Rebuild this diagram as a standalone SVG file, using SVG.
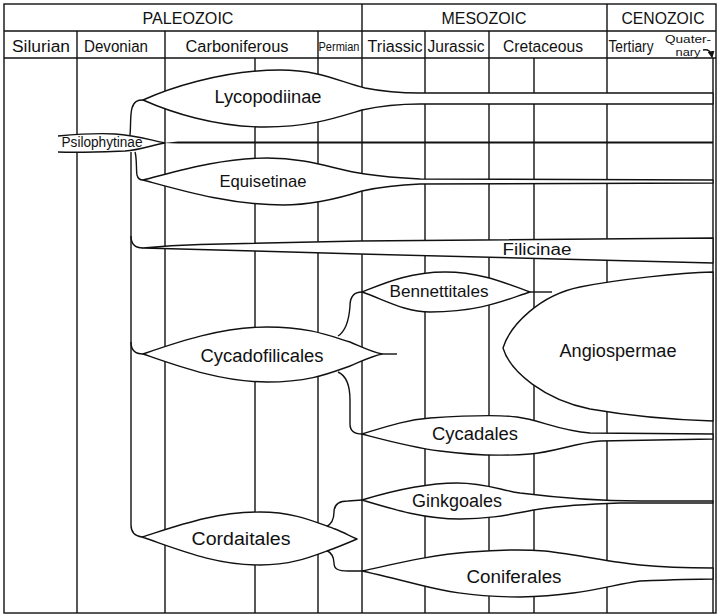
<svg xmlns="http://www.w3.org/2000/svg" width="720" height="616" viewBox="0 0 720 616">
<defs>
<style>
.g{stroke:#111;stroke-width:1.4;fill:none}
.s{fill:#fff;stroke:#111;stroke-width:1.4;stroke-linejoin:round}
.c{fill:none;stroke:#111;stroke-width:1.4}
text{font-family:"Liberation Sans","DejaVu Sans",sans-serif;fill:#111;text-anchor:middle}
.h{font-size:17px}
.p{font-size:16px}
.l{font-size:18px}
</style>
<marker id="ah" viewBox="0 0 6 6" refX="5" refY="3" markerWidth="5" markerHeight="5" orient="auto">
<path d="M0,0 L6,3 L0,6 Z" fill="#111"/>
</marker>
</defs>
<rect width="720" height="616" fill="#fff"/>
<g id="grid" class="g">
<rect x="4" y="4" width="712" height="609"/>
<line x1="4" y1="31" x2="716" y2="31"/>
<line x1="4" y1="58" x2="716" y2="58"/>
<line x1="362" y1="4" x2="362" y2="613"/>
<line x1="607" y1="4" x2="607" y2="613"/>
<line x1="77" y1="31" x2="77" y2="613"/>
<line x1="165" y1="31" x2="165" y2="613"/>
<line x1="318" y1="31" x2="318" y2="613"/>
<line x1="425" y1="31" x2="425" y2="613"/>
<line x1="489" y1="31" x2="489" y2="613"/>
<line x1="255" y1="58" x2="255" y2="613"/>
<line x1="534" y1="58" x2="534" y2="613"/>
<line x1="713" y1="58" x2="713" y2="613"/>
</g>
<g id="header">
<text class="h" x="188" y="24" textLength="91" lengthAdjust="spacingAndGlyphs">PALEOZOIC</text>
<text class="h" x="484" y="24" textLength="85" lengthAdjust="spacingAndGlyphs">MESOZOIC</text>
<text class="h" x="663" y="24" textLength="83" lengthAdjust="spacingAndGlyphs">CENOZOIC</text>
<text class="p" x="41" y="52" textLength="58" lengthAdjust="spacingAndGlyphs">Silurian</text>
<text class="p" x="116" y="52" textLength="64" lengthAdjust="spacingAndGlyphs">Devonian</text>
<text class="p" x="237" y="52" textLength="103" lengthAdjust="spacingAndGlyphs">Carboniferous</text>
<text x="339" y="51" font-size="12" textLength="41" lengthAdjust="spacingAndGlyphs">Permian</text>
<text class="p" x="395" y="52" textLength="55" lengthAdjust="spacingAndGlyphs">Triassic</text>
<text class="p" x="456" y="52" textLength="57" lengthAdjust="spacingAndGlyphs">Jurassic</text>
<text class="p" x="543" y="52" textLength="80" lengthAdjust="spacingAndGlyphs">Cretaceous</text>
<text class="p" x="631" y="52" textLength="45" lengthAdjust="spacingAndGlyphs">Tertiary</text>
<text x="688" y="43" font-size="11" textLength="46" lengthAdjust="spacingAndGlyphs">Quater-</text>
<text x="688" y="56" font-size="11" textLength="25" lengthAdjust="spacingAndGlyphs">nary</text>
<path class="c" d="M703,50 C708,49 711,51 712,57" stroke-width="1" marker-end="url(#ah)"/>
</g>
<g id="connectors">
<path class="c" d="M130,135 C131,125 130,115 132,108 C134,101 138,100 143,100"/>
<path class="c" d="M135,152 C137,158 136,170 137,175 C138,179 140,180 143,180"/>
<path class="c" d="M131,152 L131,525 C131,532 134,536 142,537"/>
<path class="c" d="M131,236 C131,244 135,248 143,248"/>
<path class="c" d="M131,342 C131,350 135,354 143,354"/>
<path class="c" d="M338,336 C346,331 349,320 350,306 C350,297 354,292 362,292"/>
<path class="c" d="M338,372 C347,376 350,386 350,400 L350,424 C350,431 355,434 362,434"/>
<path class="c" d="M326,527 C332,524 334,518 334,512 C334,505 338,501 348,501 L362,500"/>
<path class="c" d="M326,550 C332,553 334,558 334,563 C334,569 338,571 348,571 L362,571"/>
<path class="c" d="M382,354 L397,354"/>
<path class="c" d="M530,292 L552,292"/>
</g>
<g id="psilophytinae">
<path d="M58,136 C80,134 100,133 115,134 C135,135 150,140 165,143 C152,145 140,150 125,151 C100,152 80,153 58,152 Z" fill="#fff" stroke="none"/>
<path class="c" d="M58,136 C80,134 100,133 115,134 C135,135 150,140 165,143 C152,145 140,150 125,151 C100,152 80,153 58,152"/>
<path d="M163,143 L178,141.6 L713,141.6 L713,143.6 L178,143.6 Z" fill="#111"/>
<text x="102" y="147" font-size="14" textLength="81" lengthAdjust="spacingAndGlyphs">Psilophytinae</text>
</g>
<g id="lycopodiinae">
<path class="s" d="M143,100 C165,90 220,70 280,70 C320,70 340,82 365,88 C385,92 400,93 420,93 L713,93 L713,104 L420,104 C395,104 380,106 362,110 C335,118 310,127 265,127 C215,127 170,112 143,100 Z"/>
<text class="l" x="268" y="103" textLength="107" lengthAdjust="spacingAndGlyphs">Lycopodiinae</text>
</g>
<g id="equisetinae">
<path class="s" d="M143,180 C175,172 220,158 267,158 C310,158 335,170 365,174 C385,177 400,178 420,179 L713,180 L713,183 L420,184 C395,185 380,187 362,191 C340,198 310,205 283,205 C230,205 180,190 143,180 Z"/>
<text x="263" y="187" font-size="17" textLength="87" lengthAdjust="spacingAndGlyphs">Equisetinae</text>
</g>
<g id="filicinae">
<path class="s" d="M143,248 C165,246 185,245 200,244.5 L360,241 L713,238 L713,263 L360,254 C300,252 200,249.5 143,248 Z"/>
<text x="537" y="255" font-size="16" textLength="69" lengthAdjust="spacingAndGlyphs">Filicinae</text>
</g>
<g id="cycadofilicales">
<path class="s" d="M143,354 C175,343 220,327 267,327 C310,327 330,336 350,342 C362,347 372,352 382,354 C372,356 362,361 350,366 C330,373 310,382 267,382 C220,382 175,365 143,354 Z"/>
<text class="l" x="262" y="362" textLength="123" lengthAdjust="spacingAndGlyphs">Cycadofilicales</text>
</g>
<g id="bennettitales">
<path class="s" d="M362,292 C385,283 410,272 445,272 C480,272 505,283 530,292 C505,300 480,312 430,312 C405,312 385,300 362,292 Z"/>
<text x="439" y="297" font-size="17" textLength="99" lengthAdjust="spacingAndGlyphs">Bennettitales</text>
</g>
<g id="angiospermae">
<path class="s" d="M503,348 C510,325 540,295 580,287 C620,279 680,273 713,272 L713,421 C680,420 630,416 590,409 C545,400 510,372 503,348 Z"/>
<text class="l" x="618" y="357" textLength="117" lengthAdjust="spacingAndGlyphs">Angiospermae</text>
</g>
<g id="cycadales">
<path class="s" d="M362,434 C385,427 405,420 430,418 C460,416 495,414 517,417 C540,420 560,431 590,433 L713,434 L713,439 L600,441 C575,443 555,452 530,454 C505,456 470,455 440,451 C410,447 385,440 362,434 Z"/>
<text class="l" x="475" y="440" textLength="86" lengthAdjust="spacingAndGlyphs">Cycadales</text>
</g>
<g id="cordaitales">
<path class="s" d="M142,537 C180,525 215,512 260,512 C295,512 315,522 335,529 C343,532 350,536 357,539 C350,542 343,545 335,548 C315,555 295,565 260,565 C215,565 180,550 142,537 Z"/>
<text class="l" x="241" y="545" textLength="99" lengthAdjust="spacingAndGlyphs">Cordaitales</text>
</g>
<g id="ginkgoales">
<path class="s" d="M362,500 C385,493 420,483 457,483 C485,483 500,490 520,493 C560,498 600,501 640,501 L713,501 L713,503 L620,503 C590,504 560,506 540,509 C515,513 495,519 460,519 C425,519 395,510 362,500 Z"/>
<text class="l" x="457" y="507" textLength="90" lengthAdjust="spacingAndGlyphs">Ginkgoales</text>
</g>
<g id="coniferales">
<path class="s" d="M362,571 C395,564 430,555 470,552 C495,550 520,549 545,551 C580,555 610,562 640,565 C670,568 690,568 713,568 L713,579 C690,579 665,580 640,581 C610,585 580,596 520,597 C470,597 440,590 420,585 C400,580 380,575 362,571 Z"/>
<text class="l" x="514" y="583" textLength="95" lengthAdjust="spacingAndGlyphs">Coniferales</text>
</g>
</svg>
